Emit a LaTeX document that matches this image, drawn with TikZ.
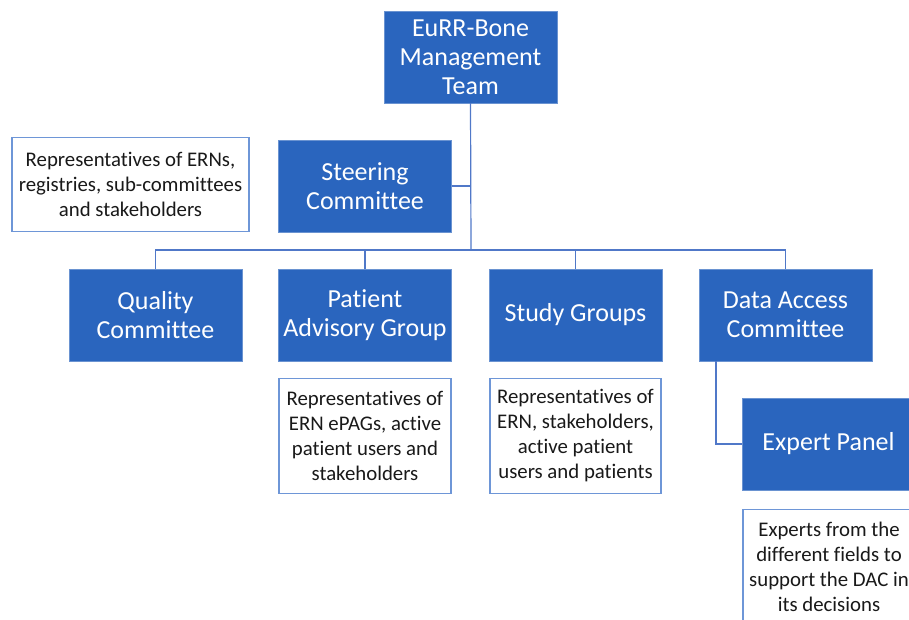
\documentclass[tikz,border=0pt]{standalone}
\usepackage{fontspec}
\setmainfont[RawFeature={-liga;-clig;-calt;-dlig}]{Carlito}
\definecolor{unitblue}{RGB}{42,101,190}
\definecolor{edgeblue}{RGB}{80,120,200}
\definecolor{noteline}{RGB}{110,150,215}
\tikzstyle{unit}=[rectangle, fill=unitblue, draw=unitblue!70!white, text=white, inner sep=0pt,
  minimum width=173pt, minimum height=92pt, align=center, font=\fontsize{26}{29}\selectfont]
\tikzstyle{note}=[rectangle, draw=noteline, line width=1.2pt, fill=white, text=black!90, inner sep=0pt,
  minimum height=115pt, align=center, font=\fontsize{20.8}{25}\selectfont]
\tikzstyle{link}=[draw=edgeblue, line width=1.2pt]

\begin{document}
\begin{tikzpicture}[x=1pt,y=-1pt]
            \useasboundingbox[fill=white] (0,0) rectangle (909,619);
            \node[unit] at (470.5,57) (mgmt) {EuRR-Bone\\Management\\Team};
            \node[unit] at (365,186) (steer) {Steering\\Committee};
            \node[note, minimum width=237pt, minimum height=94pt] at (130.5,184.5) (steernote) {Representatives of ERNs,\\registries, sub-committees\\and stakeholders};
            \node[unit] at (155.5,315) (quality) {Quality\\Committee};
            \node[unit] at (365,315) (pag) {Patient\\Advisory Group};
            \node[unit] at (575.5,315) (study) {Study Groups};
            \node[unit] at (785.5,315) (dac) {Data Access\\Committee};
            \node[unit] at (828.5,444) (expert) {Expert Panel};
            \node[note, minimum width=172pt] at (365,436) (pagnote) {Representatives of\\ERN ePAGs, active\\patient users and\\stakeholders};
            \node[note, minimum width=171pt] at (575.5,436) (studynote) {Representatives of\\ERN, stakeholders,\\active patient\\users and patients};
            \node[note, minimum width=172pt] at (829,567) (expertnote) {Experts from the\\different fields to\\support the DAC in\\its decisions};
            \coordinate (fork) at (471,250);
            \draw[link] (mgmt.south) -- (fork);
            \draw[link] (steer.east) -- (steer.east -| fork);
            \draw[link] (quality.north) |- (fork) -| (dac.north);
            \draw[link] (pag.north) -- (pag.north |- fork);
            \draw[link] (study.north) -- (study.north |- fork);
            \draw[link] ([xshift=-69.5pt]dac.south) |- (expert.west);
        \end{tikzpicture}
\end{document}
